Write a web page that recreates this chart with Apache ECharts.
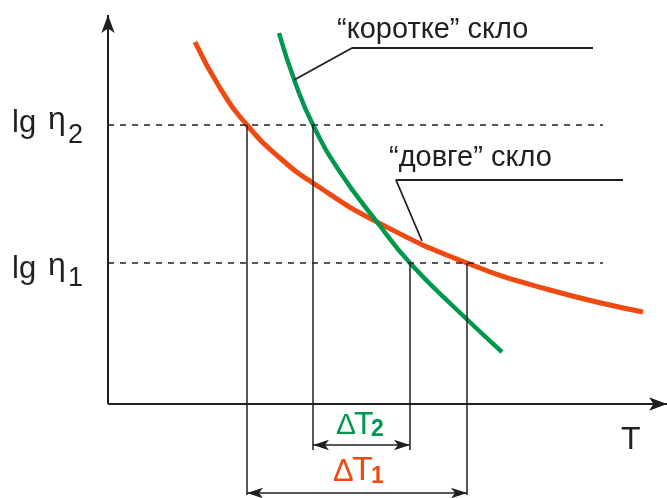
<!DOCTYPE html>
<html>
<head>
<meta charset="utf-8">
<script src="https://cdn.jsdelivr.net/npm/echarts@6/dist/echarts.min.js"></script>
<style>html,body{margin:0;padding:0;background:#fff}#c{width:667px;height:498px}</style>
</head>
<body>
<div id="c"></div>
<script>
// Data (arbitrary units: T to the right, lg η upward)
const longGlassT     = [87, 112, 139, 172, 205, 269, 359, 442, 535];
const longGlassLgEta = [362, 316, 279, 246, 221, 182, 141, 114, 92];
const shortGlassT     = [171, 187, 205, 232, 269, 302, 347, 394];
const shortGlassLgEta = [371, 322, 279, 232, 182, 141, 96, 52];
const lgEtaLevels = [141, 279];          // lg η1, lg η2
const deltaT1 = [139, 359];              // long glass range
const deltaT2 = [205, 302];              // short glass range
const axisMaxT = 559, axisMaxEta = 389, axisMinEta = -94;
const dashEndT = 495;
const shortLeaderT = [186, 244, 485], shortLeaderEta = [324, 356, 356];
const longLeaderT  = [314, 288, 515], longLeaderEta  = [163, 224, 224];
const labels = {short: '“коротке” скло', long: '“довге” скло', T: 'T', lg: 'lg', eta: 'η'};

const ink = '#231f20', red = '#ee4a12', green = '#00984c';
const zip = (a, b) => a.map((v, i) => [v, b[i]]);

const markLines = [];
const solid = (w) => ({color: ink, width: w, type: 'solid'});
markLines.push([{coord: [0, 0], symbol: 'none'}, {coord: [axisMaxT, 0], symbol: 'arrow', symbolSize: [10, 18], lineStyle: solid(2)}]);
markLines.push([{coord: [0, 0], symbol: 'none'}, {coord: [0, axisMaxEta], symbol: 'arrow', symbolSize: [10, 18], lineStyle: solid(2)}]);
lgEtaLevels.forEach(v => markLines.push([{coord: [0, v], symbol: 'none'}, {coord: [dashEndT, v], symbol: 'none', lineStyle: {color: ink, width: 1.5, type: [6, 6]}}]));
markLines.push([{coord: [deltaT1[0], lgEtaLevels[1]], symbol: 'none'}, {coord: [deltaT1[0], -91], symbol: 'none', lineStyle: solid(1.5)}]);
markLines.push([{coord: [deltaT2[0], lgEtaLevels[1]], symbol: 'none'}, {coord: [deltaT2[0], -46], symbol: 'none', lineStyle: solid(1.5)}]);
markLines.push([{coord: [deltaT2[1], lgEtaLevels[0]], symbol: 'none'}, {coord: [deltaT2[1], -46], symbol: 'none', lineStyle: solid(1.5)}]);
markLines.push([{coord: [deltaT1[1], lgEtaLevels[0]], symbol: 'none'}, {coord: [deltaT1[1], -91], symbol: 'none', lineStyle: solid(1.5)}]);
markLines.push([{coord: [deltaT2[0], -41], symbol: 'arrow', symbolSize: [8, 16]}, {coord: [deltaT2[1], -41], symbol: 'arrow', symbolSize: [8, 16], lineStyle: solid(1.5)}]);
markLines.push([{coord: [deltaT1[0], -89], symbol: 'arrow', symbolSize: [8, 16]}, {coord: [deltaT1[1], -89], symbol: 'arrow', symbolSize: [8, 16], lineStyle: solid(1.5)}]);

const font = 'Liberation Sans, Arial, sans-serif';
function txt(x, y, s, size, color, weight) {
  return {type: 'text', x: x, y: y, silent: true, style: {text: s, fontSize: size, fontFamily: font, fill: color || ink, fontWeight: weight || 'normal', verticalAlign: 'middle', align: 'left'}};
}

const chart = echarts.init(document.getElementById('c'), null, {renderer: 'canvas'});
chart.setOption({
  animation: false,
  backgroundColor: '#fff',
  grid: {left: 108, right: 0, top: 15, bottom: 0},
  xAxis: {type: 'value', min: 0, max: axisMaxT, show: false},
  yAxis: {type: 'value', min: axisMinEta, max: axisMaxEta, show: false},
  series: [
    {type: 'line', data: zip(longGlassT, longGlassLgEta), smooth: 0.5, showSymbol: false, lineStyle: {color: red, width: 5}, z: 3,
     markLine: {silent: true, animation: false, label: {show: false}, lineStyle: {color: ink, width: 1.5}, emphasis: {disabled: true}, data: markLines}},
    {type: 'line', data: zip(shortGlassT, shortGlassLgEta), smooth: 0.5, showSymbol: false, lineStyle: {color: green, width: 4.5}, z: 4},
    {type: 'line', data: zip(shortLeaderT, shortLeaderEta), showSymbol: false, lineStyle: {color: ink, width: 1.8}, z: 5},
    {type: 'line', data: zip(longLeaderT, longLeaderEta), showSymbol: false, lineStyle: {color: ink, width: 1.8}, z: 5}
  ],
  graphic: [
    txt(12, 123, labels.lg, 31), txt(48, 120, labels.eta, 32), txt(68, 136, '2', 27),
    txt(12, 269, labels.lg, 31), txt(48, 266, labels.eta, 32), txt(68, 279, '1', 27),
    txt(337, 30, labels.short, 29),
    txt(389, 158, labels.long, 29),
    txt(621, 440, labels.T, 32),
    txt(336, 426, 'Δ', 30, green), txt(354, 425, 'T', 32, green), txt(371, 430, '2', 23, green, 'bold'),
    txt(333, 472, 'Δ', 31, red), txt(352, 471, 'T', 34, red), txt(371, 477, '1', 23, red, 'bold')
  ]
});
</script>
</body>
</html>
